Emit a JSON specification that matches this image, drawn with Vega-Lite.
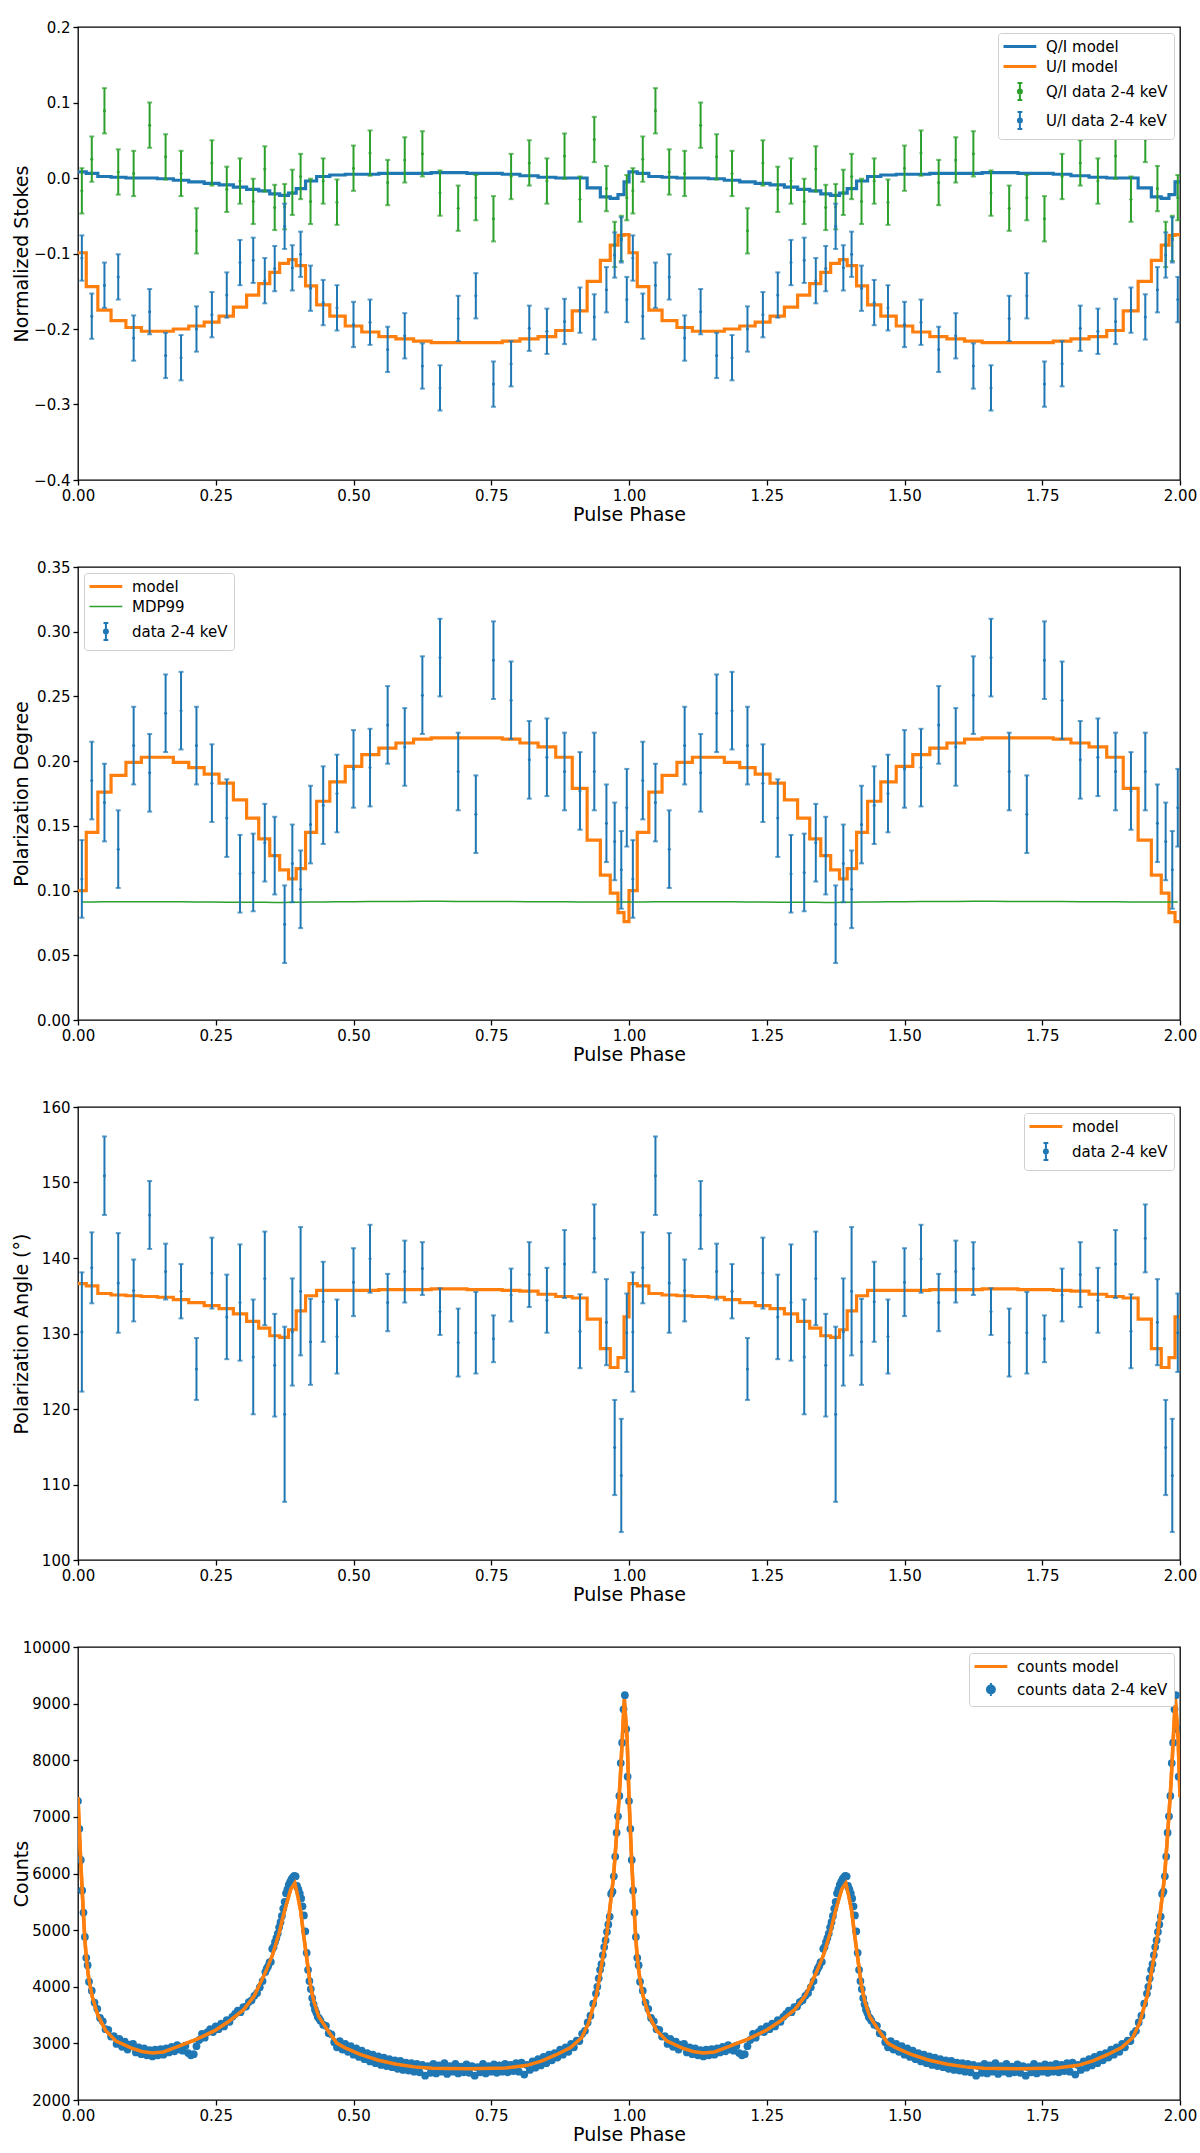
{
  "$schema": "https://vega.github.io/schema/vega-lite/v6.json",
  "background": "white",
  "padding": {"left": 11, "top": 19, "right": 3, "bottom": 10},
  "spacing": 34,
  "resolve": {"scale": {"color": "independent"}, "legend": {"color": "independent"}},
  "config": {
    "font": "DejaVu Sans",
    "locale": {"number": {"decimal": ".", "thousands": ",", "grouping": [3], "currency": ["$", ""], "minus": "\u2212"}},
    "view": {"stroke": "black", "strokeWidth": 1.3},
    "axis": {
      "grid": false, "domain": false, "tickColor": "black", "tickWidth": 1.3, "tickSize": 5,
      "labelColor": "black", "labelFontSize": 15, "labelPadding": 3, "labelFlush": false, "labelOverlap": false,
      "titleColor": "black", "titleFontSize": 19, "titleFontWeight": "normal"
    },
    "axisX": {"titlePadding": 2},
    "axisY": {"titleX": -51, "titleBaseline": "alphabetic"},
    "legend": {
      "labelFontSize": 15, "labelColor": "black", "symbolSize": 256, "labelOffset": 27,
      "rowPadding": 4, "padding": 6, "offset": 6, "fillColor": "white",
      "strokeColor": "#d0d0d0", "cornerRadius": 3
    }
  },
  "datasets": {
    "bins": [
      {"p":0.007,"q":-0.017,"u":-0.106,"d":0.109,"a":130.2,"ae":7.9,"m":0.0912,"e":0.03},
      {"p":0.025,"q":0.025,"u":-0.183,"d":0.185,"a":138.7,"ae":4.7,"m":0.0912,"e":0.03},
      {"p":0.048,"q":0.089,"u":-0.142,"d":0.168,"a":150.9,"ae":5.2,"m":0.0913,"e":0.03},
      {"p":0.073,"q":0.008,"u":-0.131,"d":0.132,"a":136.7,"ae":6.6,"m":0.0913,"e":0.03},
      {"p":0.101,"q":0.006,"u":-0.212,"d":0.212,"a":135.7,"ae":4.1,"m":0.0914,"e":0.03},
      {"p":0.130,"q":0.070,"u":-0.177,"d":0.191,"a":145.7,"ae":4.5,"m":0.0914,"e":0.03},
      {"p":0.159,"q":0.028,"u":-0.235,"d":0.237,"a":138.2,"ae":3.7,"m":0.0914,"e":0.03},
      {"p":0.187,"q":0.006,"u":-0.238,"d":0.239,"a":135.6,"ae":3.6,"m":0.0913,"e":0.03},
      {"p":0.215,"q":-0.070,"u":-0.200,"d":0.212,"a":125.3,"ae":4.1,"m":0.0912,"e":0.03},
      {"p":0.243,"q":0.020,"u":-0.181,"d":0.183,"a":138.0,"ae":4.7,"m":0.0911,"e":0.03},
      {"p":0.270,"q":-0.015,"u":-0.155,"d":0.156,"a":132.2,"ae":5.6,"m":0.0910,"e":0.03},
      {"p":0.294,"q":-0.004,"u":-0.112,"d":0.113,"a":134.1,"ae":7.7,"m":0.0910,"e":0.03},
      {"p":0.318,"q":-0.031,"u":-0.109,"d":0.114,"a":126.9,"ae":7.6,"m":0.0909,"e":0.03},
      {"p":0.339,"q":0.012,"u":-0.136,"d":0.137,"a":137.3,"ae":6.2,"m":0.0909,"e":0.03},
      {"p":0.357,"q":-0.039,"u":-0.120,"d":0.127,"a":125.8,"ae":6.8,"m":0.0908,"e":0.03},
      {"p":0.375,"q":-0.038,"u":-0.064,"d":0.074,"a":119.3,"ae":11.6,"m":0.0908,"e":0.03},
      {"p":0.389,"q":-0.019,"u":-0.119,"d":0.121,"a":130.2,"ae":7.1,"m":0.0909,"e":0.03},
      {"p":0.404,"q":0.002,"u":-0.101,"d":0.101,"a":135.6,"ae":8.5,"m":0.0910,"e":0.03},
      {"p":0.422,"q":-0.031,"u":-0.146,"d":0.151,"a":128.9,"ae":5.7,"m":0.0911,"e":0.03},
      {"p":0.445,"q":-0.004,"u":-0.165,"d":0.166,"a":134.2,"ae":5.3,"m":0.0912,"e":0.03},
      {"p":0.470,"q":-0.032,"u":-0.172,"d":0.175,"a":129.6,"ae":4.9,"m":0.0913,"e":0.03},
      {"p":0.500,"q":0.013,"u":-0.194,"d":0.194,"a":136.8,"ae":4.5,"m":0.0914,"e":0.03},
      {"p":0.530,"q":0.033,"u":-0.191,"d":0.195,"a":139.9,"ae":4.5,"m":0.0915,"e":0.03},
      {"p":0.562,"q":-0.006,"u":-0.227,"d":0.228,"a":134.1,"ae":3.8,"m":0.0916,"e":0.03},
      {"p":0.593,"q":0.024,"u":-0.209,"d":0.211,"a":138.2,"ae":4.1,"m":0.0916,"e":0.03},
      {"p":0.625,"q":0.032,"u":-0.249,"d":0.251,"a":138.6,"ae":3.5,"m":0.0917,"e":0.03},
      {"p":0.657,"q":-0.020,"u":-0.278,"d":0.280,"a":132.9,"ae":3.1,"m":0.0917,"e":0.03},
      {"p":0.690,"q":-0.040,"u":-0.186,"d":0.192,"a":128.8,"ae":4.5,"m":0.0916,"e":0.03},
      {"p":0.722,"q":-0.026,"u":-0.156,"d":0.159,"a":130.1,"ae":5.4,"m":0.0916,"e":0.03},
      {"p":0.754,"q":-0.054,"u":-0.273,"d":0.278,"a":129.3,"ae":3.1,"m":0.0915,"e":0.03},
      {"p":0.786,"q":0.002,"u":-0.246,"d":0.247,"a":135.1,"ae":3.5,"m":0.0915,"e":0.03},
      {"p":0.819,"q":0.020,"u":-0.199,"d":0.201,"a":137.8,"ae":4.3,"m":0.0914,"e":0.03},
      {"p":0.851,"q":-0.004,"u":-0.203,"d":0.203,"a":134.4,"ae":4.3,"m":0.0913,"e":0.03},
      {"p":0.883,"q":0.029,"u":-0.190,"d":0.192,"a":139.2,"ae":4.5,"m":0.0913,"e":0.03},
      {"p":0.911,"q":-0.028,"u":-0.175,"d":0.177,"a":130.3,"ae":4.9,"m":0.0912,"e":0.03},
      {"p":0.937,"q":0.051,"u":-0.184,"d":0.192,"a":142.6,"ae":4.5,"m":0.0912,"e":0.03},
      {"p":0.959,"q":-0.014,"u":-0.148,"d":0.152,"a":131.5,"ae":5.7,"m":0.0912,"e":0.03},
      {"p":0.974,"q":-0.088,"u":-0.102,"d":0.138,"a":114.9,"ae":6.3,"m":0.0911,"e":0.03},
      {"p":0.986,"q":-0.080,"u":-0.082,"d":0.116,"a":111.2,"ae":7.5,"m":0.0911,"e":0.03},
      {"p":0.996,"q":-0.026,"u":-0.161,"d":0.164,"a":130.1,"ae":5.2,"m":0.0911,"e":0.03},
      {"p":1.007,"q":-0.017,"u":-0.106,"d":0.109,"a":130.2,"ae":7.9,"m":0.0912,"e":0.03},
      {"p":1.025,"q":0.025,"u":-0.183,"d":0.185,"a":138.7,"ae":4.7,"m":0.0912,"e":0.03},
      {"p":1.048,"q":0.089,"u":-0.142,"d":0.168,"a":150.9,"ae":5.2,"m":0.0913,"e":0.03},
      {"p":1.073,"q":0.008,"u":-0.131,"d":0.132,"a":136.7,"ae":6.6,"m":0.0913,"e":0.03},
      {"p":1.101,"q":0.006,"u":-0.212,"d":0.212,"a":135.7,"ae":4.1,"m":0.0914,"e":0.03},
      {"p":1.130,"q":0.070,"u":-0.177,"d":0.191,"a":145.7,"ae":4.5,"m":0.0914,"e":0.03},
      {"p":1.159,"q":0.028,"u":-0.235,"d":0.237,"a":138.2,"ae":3.7,"m":0.0914,"e":0.03},
      {"p":1.187,"q":0.006,"u":-0.238,"d":0.239,"a":135.6,"ae":3.6,"m":0.0913,"e":0.03},
      {"p":1.215,"q":-0.070,"u":-0.200,"d":0.212,"a":125.3,"ae":4.1,"m":0.0912,"e":0.03},
      {"p":1.243,"q":0.020,"u":-0.181,"d":0.183,"a":138.0,"ae":4.7,"m":0.0911,"e":0.03},
      {"p":1.270,"q":-0.015,"u":-0.155,"d":0.156,"a":132.2,"ae":5.6,"m":0.0910,"e":0.03},
      {"p":1.294,"q":-0.004,"u":-0.112,"d":0.113,"a":134.1,"ae":7.7,"m":0.0910,"e":0.03},
      {"p":1.318,"q":-0.031,"u":-0.109,"d":0.114,"a":126.9,"ae":7.6,"m":0.0909,"e":0.03},
      {"p":1.339,"q":0.012,"u":-0.136,"d":0.137,"a":137.3,"ae":6.2,"m":0.0909,"e":0.03},
      {"p":1.357,"q":-0.039,"u":-0.120,"d":0.127,"a":125.8,"ae":6.8,"m":0.0908,"e":0.03},
      {"p":1.375,"q":-0.038,"u":-0.064,"d":0.074,"a":119.3,"ae":11.6,"m":0.0908,"e":0.03},
      {"p":1.389,"q":-0.019,"u":-0.119,"d":0.121,"a":130.2,"ae":7.1,"m":0.0909,"e":0.03},
      {"p":1.404,"q":0.002,"u":-0.101,"d":0.101,"a":135.6,"ae":8.5,"m":0.0910,"e":0.03},
      {"p":1.422,"q":-0.031,"u":-0.146,"d":0.151,"a":128.9,"ae":5.7,"m":0.0911,"e":0.03},
      {"p":1.445,"q":-0.004,"u":-0.165,"d":0.166,"a":134.2,"ae":5.3,"m":0.0912,"e":0.03},
      {"p":1.470,"q":-0.032,"u":-0.172,"d":0.175,"a":129.6,"ae":4.9,"m":0.0913,"e":0.03},
      {"p":1.500,"q":0.013,"u":-0.194,"d":0.194,"a":136.8,"ae":4.5,"m":0.0914,"e":0.03},
      {"p":1.530,"q":0.033,"u":-0.191,"d":0.195,"a":139.9,"ae":4.5,"m":0.0915,"e":0.03},
      {"p":1.562,"q":-0.006,"u":-0.227,"d":0.228,"a":134.1,"ae":3.8,"m":0.0916,"e":0.03},
      {"p":1.593,"q":0.024,"u":-0.209,"d":0.211,"a":138.2,"ae":4.1,"m":0.0916,"e":0.03},
      {"p":1.625,"q":0.032,"u":-0.249,"d":0.251,"a":138.6,"ae":3.5,"m":0.0917,"e":0.03},
      {"p":1.657,"q":-0.020,"u":-0.278,"d":0.280,"a":132.9,"ae":3.1,"m":0.0917,"e":0.03},
      {"p":1.690,"q":-0.040,"u":-0.186,"d":0.192,"a":128.8,"ae":4.5,"m":0.0916,"e":0.03},
      {"p":1.722,"q":-0.026,"u":-0.156,"d":0.159,"a":130.1,"ae":5.4,"m":0.0916,"e":0.03},
      {"p":1.754,"q":-0.054,"u":-0.273,"d":0.278,"a":129.3,"ae":3.1,"m":0.0915,"e":0.03},
      {"p":1.786,"q":0.002,"u":-0.246,"d":0.247,"a":135.1,"ae":3.5,"m":0.0915,"e":0.03},
      {"p":1.819,"q":0.020,"u":-0.199,"d":0.201,"a":137.8,"ae":4.3,"m":0.0914,"e":0.03},
      {"p":1.851,"q":-0.004,"u":-0.203,"d":0.203,"a":134.4,"ae":4.3,"m":0.0913,"e":0.03},
      {"p":1.883,"q":0.029,"u":-0.190,"d":0.192,"a":139.2,"ae":4.5,"m":0.0913,"e":0.03},
      {"p":1.911,"q":-0.028,"u":-0.175,"d":0.177,"a":130.3,"ae":4.9,"m":0.0912,"e":0.03},
      {"p":1.937,"q":0.051,"u":-0.184,"d":0.192,"a":142.6,"ae":4.5,"m":0.0912,"e":0.03},
      {"p":1.959,"q":-0.014,"u":-0.148,"d":0.152,"a":131.5,"ae":5.7,"m":0.0912,"e":0.03},
      {"p":1.974,"q":-0.088,"u":-0.102,"d":0.138,"a":114.9,"ae":6.3,"m":0.0911,"e":0.03},
      {"p":1.986,"q":-0.080,"u":-0.082,"d":0.116,"a":111.2,"ae":7.5,"m":0.0911,"e":0.03},
      {"p":1.996,"q":-0.026,"u":-0.161,"d":0.164,"a":130.1,"ae":5.2,"m":0.0911,"e":0.03}
    ],
    "edges": [
      {"p":0,"qm":0.008,"um":-0.099,"pm":0.1,"am":136.6},
      {"p":0.015,"qm":0.006,"um":-0.144,"pm":0.145,"am":136.3},
      {"p":0.036,"qm":0.002,"um":-0.175,"pm":0.176,"am":135.3},
      {"p":0.06,"qm":0.001,"um":-0.189,"pm":0.189,"am":135.1},
      {"p":0.087,"qm":0,"um":-0.198,"pm":0.199,"am":135.0},
      {"p":0.115,"qm":0,"um":-0.203,"pm":0.203,"am":134.9},
      {"p":0.144,"qm":-0.001,"um":-0.203,"pm":0.203,"am":134.8},
      {"p":0.173,"qm":-0.003,"um":-0.2,"pm":0.199,"am":134.5},
      {"p":0.201,"qm":-0.005,"um":-0.196,"pm":0.195,"am":134.1},
      {"p":0.229,"qm":-0.007,"um":-0.191,"pm":0.19,"am":133.7},
      {"p":0.256,"qm":-0.009,"um":-0.183,"pm":0.183,"am":133.3},
      {"p":0.282,"qm":-0.012,"um":-0.171,"pm":0.17,"am":132.6},
      {"p":0.306,"qm":-0.015,"um":-0.155,"pm":0.156,"am":131.6},
      {"p":0.328,"qm":-0.017,"um":-0.14,"pm":0.14,"am":130.7},
      {"p":0.348,"qm":-0.021,"um":-0.125,"pm":0.127,"am":129.7},
      {"p":0.366,"qm":-0.023,"um":-0.113,"pm":0.116,"am":129.5},
      {"p":0.382,"qm":-0.02,"um":-0.108,"pm":0.109,"am":130.5},
      {"p":0.396,"qm":-0.014,"um":-0.116,"pm":0.117,"am":133.0},
      {"p":0.413,"qm":-0.004,"um":-0.143,"pm":0.145,"am":135.0},
      {"p":0.433,"qm":0.002,"um":-0.168,"pm":0.169,"am":135.7},
      {"p":0.457,"qm":0.004,"um":-0.183,"pm":0.184,"am":135.7},
      {"p":0.485,"qm":0.005,"um":-0.196,"pm":0.196,"am":135.7},
      {"p":0.515,"qm":0.005,"um":-0.204,"pm":0.205,"am":135.7},
      {"p":0.546,"qm":0.006,"um":-0.21,"pm":0.21,"am":135.8},
      {"p":0.577,"qm":0.006,"um":-0.213,"pm":0.214,"am":135.8},
      {"p":0.609,"qm":0.006,"um":-0.216,"pm":0.217,"am":135.8},
      {"p":0.641,"qm":0.007,"um":-0.218,"pm":0.218,"am":135.9},
      {"p":0.673,"qm":0.007,"um":-0.218,"pm":0.218,"am":135.9},
      {"p":0.706,"qm":0.006,"um":-0.218,"pm":0.218,"am":135.8},
      {"p":0.738,"qm":0.006,"um":-0.218,"pm":0.218,"am":135.8},
      {"p":0.77,"qm":0.005,"um":-0.216,"pm":0.217,"am":135.7},
      {"p":0.802,"qm":0.003,"um":-0.213,"pm":0.214,"am":135.6},
      {"p":0.835,"qm":0.001,"um":-0.21,"pm":0.211,"am":135.2},
      {"p":0.867,"qm":0,"um":-0.202,"pm":0.203,"am":134.9},
      {"p":0.897,"qm":0,"um":-0.176,"pm":0.179,"am":134.7},
      {"p":0.924,"qm":-0.013,"um":-0.137,"pm":0.139,"am":131.9},
      {"p":0.948,"qm":-0.025,"um":-0.109,"pm":0.112,"am":128.0},
      {"p":0.966,"qm":-0.027,"um":-0.089,"pm":0.098,"am":125.5},
      {"p":0.98,"qm":-0.022,"um":-0.076,"pm":0.083,"am":126.8},
      {"p":0.991,"qm":-0.005,"um":-0.075,"pm":0.076,"am":132.2},
      {"p":1,"qm":0.008,"um":-0.099,"pm":0.1,"am":136.6},
      {"p":1.015,"qm":0.006,"um":-0.144,"pm":0.145,"am":136.3},
      {"p":1.036,"qm":0.002,"um":-0.175,"pm":0.176,"am":135.3},
      {"p":1.06,"qm":0.001,"um":-0.189,"pm":0.189,"am":135.1},
      {"p":1.087,"qm":0,"um":-0.198,"pm":0.199,"am":135.0},
      {"p":1.115,"qm":0,"um":-0.203,"pm":0.203,"am":134.9},
      {"p":1.144,"qm":-0.001,"um":-0.203,"pm":0.203,"am":134.8},
      {"p":1.173,"qm":-0.003,"um":-0.2,"pm":0.199,"am":134.5},
      {"p":1.201,"qm":-0.005,"um":-0.196,"pm":0.195,"am":134.1},
      {"p":1.229,"qm":-0.007,"um":-0.191,"pm":0.19,"am":133.7},
      {"p":1.256,"qm":-0.009,"um":-0.183,"pm":0.183,"am":133.3},
      {"p":1.282,"qm":-0.012,"um":-0.171,"pm":0.17,"am":132.6},
      {"p":1.306,"qm":-0.015,"um":-0.155,"pm":0.156,"am":131.6},
      {"p":1.328,"qm":-0.017,"um":-0.14,"pm":0.14,"am":130.7},
      {"p":1.348,"qm":-0.021,"um":-0.125,"pm":0.127,"am":129.7},
      {"p":1.366,"qm":-0.023,"um":-0.113,"pm":0.116,"am":129.5},
      {"p":1.382,"qm":-0.02,"um":-0.108,"pm":0.109,"am":130.5},
      {"p":1.396,"qm":-0.014,"um":-0.116,"pm":0.117,"am":133.0},
      {"p":1.413,"qm":-0.004,"um":-0.143,"pm":0.145,"am":135.0},
      {"p":1.433,"qm":0.002,"um":-0.168,"pm":0.169,"am":135.7},
      {"p":1.457,"qm":0.004,"um":-0.183,"pm":0.184,"am":135.7},
      {"p":1.485,"qm":0.005,"um":-0.196,"pm":0.196,"am":135.7},
      {"p":1.515,"qm":0.005,"um":-0.204,"pm":0.205,"am":135.7},
      {"p":1.546,"qm":0.006,"um":-0.21,"pm":0.21,"am":135.8},
      {"p":1.577,"qm":0.006,"um":-0.213,"pm":0.214,"am":135.8},
      {"p":1.609,"qm":0.006,"um":-0.216,"pm":0.217,"am":135.8},
      {"p":1.641,"qm":0.007,"um":-0.218,"pm":0.218,"am":135.9},
      {"p":1.673,"qm":0.007,"um":-0.218,"pm":0.218,"am":135.9},
      {"p":1.706,"qm":0.006,"um":-0.218,"pm":0.218,"am":135.8},
      {"p":1.738,"qm":0.006,"um":-0.218,"pm":0.218,"am":135.8},
      {"p":1.77,"qm":0.005,"um":-0.216,"pm":0.217,"am":135.7},
      {"p":1.802,"qm":0.003,"um":-0.213,"pm":0.214,"am":135.6},
      {"p":1.835,"qm":0.001,"um":-0.21,"pm":0.211,"am":135.2},
      {"p":1.867,"qm":0,"um":-0.202,"pm":0.203,"am":134.9},
      {"p":1.897,"qm":0,"um":-0.176,"pm":0.179,"am":134.7},
      {"p":1.924,"qm":-0.013,"um":-0.137,"pm":0.139,"am":131.9},
      {"p":1.948,"qm":-0.025,"um":-0.109,"pm":0.112,"am":128.0},
      {"p":1.966,"qm":-0.027,"um":-0.089,"pm":0.098,"am":125.5},
      {"p":1.98,"qm":-0.022,"um":-0.076,"pm":0.083,"am":126.8},
      {"p":1.991,"qm":-0.005,"um":-0.075,"pm":0.076,"am":132.2},
      {"p":2,"qm":-0.005,"um":-0.075,"pm":0.076,"am":132.2}
    ],
    "counts": [
      {"p":0,"c":7280},{"p":0.0025,"c":6790},{"p":0.005,"c":6240},{"p":0.0075,"c":5700},{"p":0.01,"c":5310},{"p":0.0125,"c":4880},{"p":0.015,"c":4510},{"p":0.0175,"c":4380},
      {"p":0.02,"c":4090},{"p":0.025,"c":3930},{"p":0.03,"c":3720},{"p":0.035,"c":3610},{"p":0.04,"c":3450},{"p":0.045,"c":3390},{"p":0.05,"c":3250},{"p":0.055,"c":3240},
      {"p":0.06,"c":3120},{"p":0.065,"c":3130},{"p":0.07,"c":2990},{"p":0.075,"c":3080},{"p":0.08,"c":2940},{"p":0.085,"c":3030},{"p":0.09,"c":2890},{"p":0.095,"c":2980},
      {"p":0.1,"c":2990},{"p":0.105,"c":2840},{"p":0.11,"c":2930},{"p":0.115,"c":2810},{"p":0.12,"c":2910},{"p":0.125,"c":2790},{"p":0.13,"c":2880},{"p":0.135,"c":2770},
      {"p":0.14,"c":2890},{"p":0.145,"c":2790},{"p":0.15,"c":2900},{"p":0.155,"c":2800},{"p":0.16,"c":2910},{"p":0.165,"c":2840},{"p":0.17,"c":2940},{"p":0.175,"c":2860},
      {"p":0.18,"c":2970},{"p":0.185,"c":2890},{"p":0.19,"c":2870},{"p":0.195,"c":2960},{"p":0.2,"c":2830},{"p":0.205,"c":2790},{"p":0.21,"c":2810},{"p":0.215,"c":2950},
      {"p":0.22,"c":3060},{"p":0.225,"c":3170},{"p":0.23,"c":3100},{"p":0.235,"c":3200},{"p":0.24,"c":3250},{"p":0.245,"c":3200},{"p":0.25,"c":3300},{"p":0.255,"c":3250},
      {"p":0.26,"c":3350},{"p":0.265,"c":3300},{"p":0.27,"c":3410},{"p":0.275,"c":3380},{"p":0.28,"c":3470},{"p":0.285,"c":3520},{"p":0.29,"c":3580},{"p":0.295,"c":3550},
      {"p":0.3,"c":3640},{"p":0.305,"c":3650},{"p":0.31,"c":3730},{"p":0.315,"c":3760},{"p":0.32,"c":3840},{"p":0.325,"c":3890},{"p":0.33,"c":3990},{"p":0.335,"c":4100},
      {"p":0.34,"c":4260},{"p":0.3425,"c":4320},{"p":0.345,"c":4360},{"p":0.3475,"c":4430},{"p":0.35,"c":4440},{"p":0.3525,"c":4670},{"p":0.355,"c":4700},{"p":0.3575,"c":4790},
      {"p":0.36,"c":4860},{"p":0.3625,"c":4940},{"p":0.365,"c":5050},{"p":0.3675,"c":5140},{"p":0.37,"c":5250},{"p":0.3725,"c":5380},{"p":0.375,"c":5500},{"p":0.3775,"c":5650},
      {"p":0.38,"c":5720},{"p":0.3825,"c":5800},{"p":0.385,"c":5850},{"p":0.3875,"c":5900},{"p":0.39,"c":5930},{"p":0.3925,"c":5960},{"p":0.395,"c":5950},{"p":0.3975,"c":5780},
      {"p":0.4,"c":5720},{"p":0.4025,"c":5650},{"p":0.405,"c":5560},{"p":0.4075,"c":5420},{"p":0.41,"c":5260},{"p":0.4125,"c":4980},{"p":0.415,"c":4600},{"p":0.4175,"c":4300},
      {"p":0.42,"c":4100},{"p":0.4225,"c":3960},{"p":0.425,"c":3800},{"p":0.4275,"c":3690},{"p":0.43,"c":3600},{"p":0.4325,"c":3540},{"p":0.435,"c":3470},{"p":0.4375,"c":3440},
      {"p":0.44,"c":3400},{"p":0.445,"c":3330},{"p":0.45,"c":3310},{"p":0.455,"c":3180},{"p":0.46,"c":3160},{"p":0.465,"c":3020},{"p":0.47,"c":2930},{"p":0.475,"c":3040},
      {"p":0.48,"c":2890},{"p":0.485,"c":2990},{"p":0.49,"c":2850},{"p":0.495,"c":2950},{"p":0.5,"c":2800},{"p":0.505,"c":2910},{"p":0.51,"c":2760},{"p":0.515,"c":2870},
      {"p":0.52,"c":2720},{"p":0.525,"c":2830},{"p":0.53,"c":2680},{"p":0.535,"c":2800},{"p":0.54,"c":2650},{"p":0.545,"c":2770},{"p":0.55,"c":2620},{"p":0.555,"c":2750},
      {"p":0.56,"c":2600},{"p":0.565,"c":2720},{"p":0.57,"c":2580},{"p":0.575,"c":2700},{"p":0.58,"c":2550},{"p":0.585,"c":2690},{"p":0.59,"c":2530},{"p":0.595,"c":2660},
      {"p":0.6,"c":2520},{"p":0.605,"c":2650},{"p":0.61,"c":2500},{"p":0.615,"c":2640},{"p":0.62,"c":2490},{"p":0.625,"c":2620},{"p":0.63,"c":2430},{"p":0.635,"c":2600},
      {"p":0.64,"c":2480},{"p":0.645,"c":2640},{"p":0.65,"c":2470},{"p":0.655,"c":2610},{"p":0.66,"c":2500},{"p":0.665,"c":2650},{"p":0.67,"c":2460},{"p":0.675,"c":2600},
      {"p":0.68,"c":2500},{"p":0.685,"c":2640},{"p":0.69,"c":2470},{"p":0.695,"c":2590},{"p":0.7,"c":2490},{"p":0.705,"c":2630},{"p":0.71,"c":2480},{"p":0.715,"c":2600},
      {"p":0.72,"c":2430},{"p":0.725,"c":2580},{"p":0.73,"c":2490},{"p":0.735,"c":2640},{"p":0.74,"c":2470},{"p":0.745,"c":2600},{"p":0.75,"c":2500},{"p":0.755,"c":2630},
      {"p":0.76,"c":2480},{"p":0.765,"c":2610},{"p":0.77,"c":2500},{"p":0.775,"c":2640},{"p":0.78,"c":2490},{"p":0.785,"c":2620},{"p":0.79,"c":2510},{"p":0.795,"c":2650},
      {"p":0.8,"c":2500},{"p":0.805,"c":2660},{"p":0.81,"c":2450},{"p":0.815,"c":2620},{"p":0.82,"c":2530},{"p":0.825,"c":2680},{"p":0.83,"c":2570},{"p":0.835,"c":2720},
      {"p":0.84,"c":2610},{"p":0.845,"c":2760},{"p":0.85,"c":2650},{"p":0.855,"c":2800},{"p":0.86,"c":2700},{"p":0.865,"c":2830},{"p":0.87,"c":2750},{"p":0.875,"c":2890},
      {"p":0.88,"c":2800},{"p":0.885,"c":2930},{"p":0.89,"c":2850},{"p":0.895,"c":2990},{"p":0.9,"c":2930},{"p":0.905,"c":3050},{"p":0.91,"c":3040},{"p":0.915,"c":3170},
      {"p":0.92,"c":3220},{"p":0.925,"c":3370},{"p":0.93,"c":3490},{"p":0.935,"c":3700},
      {"p":0.94,"c":3880},{"p":0.9425,"c":4000},{"p":0.945,"c":4150},{"p":0.9475,"c":4300},{"p":0.95,"c":4400},{"p":0.9525,"c":4560},{"p":0.955,"c":4700},{"p":0.9575,"c":4820},
      {"p":0.96,"c":4970},{"p":0.9625,"c":5100},{"p":0.965,"c":5240},{"p":0.9675,"c":5640},{"p":0.97,"c":5680},{"p":0.9725,"c":5950},{"p":0.975,"c":6300},{"p":0.9775,"c":6720},
      {"p":0.98,"c":7010},{"p":0.9825,"c":7370},{"p":0.985,"c":7950},{"p":0.9875,"c":8310},{"p":0.99,"c":8900},{"p":0.9925,"c":9150},{"p":0.995,"c":8550},{"p":0.9975,"c":7710},
      {"p":1,"c":7280},{"p":1.0025,"c":6790},{"p":1.005,"c":6240},{"p":1.0075,"c":5700},{"p":1.01,"c":5310},{"p":1.0125,"c":4880},{"p":1.015,"c":4510},{"p":1.0175,"c":4380},
      {"p":1.02,"c":4090},{"p":1.025,"c":3930},{"p":1.03,"c":3720},{"p":1.035,"c":3610},{"p":1.04,"c":3450},{"p":1.045,"c":3390},{"p":1.05,"c":3250},{"p":1.055,"c":3240},
      {"p":1.06,"c":3120},{"p":1.065,"c":3130},{"p":1.07,"c":2990},{"p":1.075,"c":3080},{"p":1.08,"c":2940},{"p":1.085,"c":3030},{"p":1.09,"c":2890},{"p":1.095,"c":2980},
      {"p":1.1,"c":2990},{"p":1.105,"c":2840},{"p":1.11,"c":2930},{"p":1.115,"c":2810},{"p":1.12,"c":2910},{"p":1.125,"c":2790},{"p":1.13,"c":2880},{"p":1.135,"c":2770},
      {"p":1.14,"c":2890},{"p":1.145,"c":2790},{"p":1.15,"c":2900},{"p":1.155,"c":2800},{"p":1.16,"c":2910},{"p":1.165,"c":2840},{"p":1.17,"c":2940},{"p":1.175,"c":2860},
      {"p":1.18,"c":2970},{"p":1.185,"c":2890},{"p":1.19,"c":2870},{"p":1.195,"c":2960},{"p":1.2,"c":2830},{"p":1.205,"c":2790},{"p":1.21,"c":2810},{"p":1.215,"c":2950},
      {"p":1.22,"c":3060},{"p":1.225,"c":3170},{"p":1.23,"c":3100},{"p":1.235,"c":3200},{"p":1.24,"c":3250},{"p":1.245,"c":3200},{"p":1.25,"c":3300},{"p":1.255,"c":3250},
      {"p":1.26,"c":3350},{"p":1.265,"c":3300},{"p":1.27,"c":3410},{"p":1.275,"c":3380},{"p":1.28,"c":3470},{"p":1.285,"c":3520},{"p":1.29,"c":3580},{"p":1.295,"c":3550},
      {"p":1.3,"c":3640},{"p":1.305,"c":3650},{"p":1.31,"c":3730},{"p":1.315,"c":3760},{"p":1.32,"c":3840},{"p":1.325,"c":3890},{"p":1.33,"c":3990},{"p":1.335,"c":4100},
      {"p":1.34,"c":4260},{"p":1.3425,"c":4320},{"p":1.345,"c":4360},{"p":1.3475,"c":4430},{"p":1.35,"c":4440},{"p":1.3525,"c":4670},{"p":1.355,"c":4700},{"p":1.3575,"c":4790},
      {"p":1.36,"c":4860},{"p":1.3625,"c":4940},{"p":1.365,"c":5050},{"p":1.3675,"c":5140},{"p":1.37,"c":5250},{"p":1.3725,"c":5380},{"p":1.375,"c":5500},{"p":1.3775,"c":5650},
      {"p":1.38,"c":5720},{"p":1.3825,"c":5800},{"p":1.385,"c":5850},{"p":1.3875,"c":5900},{"p":1.39,"c":5930},{"p":1.3925,"c":5960},{"p":1.395,"c":5950},{"p":1.3975,"c":5780},
      {"p":1.4,"c":5720},{"p":1.4025,"c":5650},{"p":1.405,"c":5560},{"p":1.4075,"c":5420},{"p":1.41,"c":5260},{"p":1.4125,"c":4980},{"p":1.415,"c":4600},{"p":1.4175,"c":4300},
      {"p":1.42,"c":4100},{"p":1.4225,"c":3960},{"p":1.425,"c":3800},{"p":1.4275,"c":3690},{"p":1.43,"c":3600},{"p":1.4325,"c":3540},{"p":1.435,"c":3470},{"p":1.4375,"c":3440},
      {"p":1.44,"c":3400},{"p":1.445,"c":3330},{"p":1.45,"c":3310},{"p":1.455,"c":3180},{"p":1.46,"c":3160},{"p":1.465,"c":3020},{"p":1.47,"c":2930},{"p":1.475,"c":3040},
      {"p":1.48,"c":2890},{"p":1.485,"c":2990},{"p":1.49,"c":2850},{"p":1.495,"c":2950},{"p":1.5,"c":2800},{"p":1.505,"c":2910},{"p":1.51,"c":2760},{"p":1.515,"c":2870},
      {"p":1.52,"c":2720},{"p":1.525,"c":2830},{"p":1.53,"c":2680},{"p":1.535,"c":2800},{"p":1.54,"c":2650},{"p":1.545,"c":2770},{"p":1.55,"c":2620},{"p":1.555,"c":2750},
      {"p":1.56,"c":2600},{"p":1.565,"c":2720},{"p":1.57,"c":2580},{"p":1.575,"c":2700},{"p":1.58,"c":2550},{"p":1.585,"c":2690},{"p":1.59,"c":2530},{"p":1.595,"c":2660},
      {"p":1.6,"c":2520},{"p":1.605,"c":2650},{"p":1.61,"c":2500},{"p":1.615,"c":2640},{"p":1.62,"c":2490},{"p":1.625,"c":2620},{"p":1.63,"c":2430},{"p":1.635,"c":2600},
      {"p":1.64,"c":2480},{"p":1.645,"c":2640},{"p":1.65,"c":2470},{"p":1.655,"c":2610},{"p":1.66,"c":2500},{"p":1.665,"c":2650},{"p":1.67,"c":2460},{"p":1.675,"c":2600},
      {"p":1.68,"c":2500},{"p":1.685,"c":2640},{"p":1.69,"c":2470},{"p":1.695,"c":2590},{"p":1.7,"c":2490},{"p":1.705,"c":2630},{"p":1.71,"c":2480},{"p":1.715,"c":2600},
      {"p":1.72,"c":2430},{"p":1.725,"c":2580},{"p":1.73,"c":2490},{"p":1.735,"c":2640},{"p":1.74,"c":2470},{"p":1.745,"c":2600},{"p":1.75,"c":2500},{"p":1.755,"c":2630},
      {"p":1.76,"c":2480},{"p":1.765,"c":2610},{"p":1.77,"c":2500},{"p":1.775,"c":2640},{"p":1.78,"c":2490},{"p":1.785,"c":2620},{"p":1.79,"c":2510},{"p":1.795,"c":2650},
      {"p":1.8,"c":2500},{"p":1.805,"c":2660},{"p":1.81,"c":2450},{"p":1.815,"c":2620},{"p":1.82,"c":2530},{"p":1.825,"c":2680},{"p":1.83,"c":2570},{"p":1.835,"c":2720},
      {"p":1.84,"c":2610},{"p":1.845,"c":2760},{"p":1.85,"c":2650},{"p":1.855,"c":2800},{"p":1.86,"c":2700},{"p":1.865,"c":2830},{"p":1.87,"c":2750},{"p":1.875,"c":2890},
      {"p":1.88,"c":2800},{"p":1.885,"c":2930},{"p":1.89,"c":2850},{"p":1.895,"c":2990},{"p":1.9,"c":2930},{"p":1.905,"c":3050},{"p":1.91,"c":3040},{"p":1.915,"c":3170},
      {"p":1.92,"c":3220},{"p":1.925,"c":3370},{"p":1.93,"c":3490},{"p":1.935,"c":3700},
      {"p":1.94,"c":3880},{"p":1.9425,"c":4000},{"p":1.945,"c":4150},{"p":1.9475,"c":4300},{"p":1.95,"c":4400},{"p":1.9525,"c":4560},{"p":1.955,"c":4700},{"p":1.9575,"c":4820},
      {"p":1.96,"c":4970},{"p":1.9625,"c":5100},{"p":1.965,"c":5240},{"p":1.9675,"c":5640},{"p":1.97,"c":5680},{"p":1.9725,"c":5950},{"p":1.975,"c":6300},{"p":1.9775,"c":6720},
      {"p":1.98,"c":7010},{"p":1.9825,"c":7370},{"p":1.985,"c":7950},{"p":1.9875,"c":8310},{"p":1.99,"c":8900},{"p":1.9925,"c":9150},{"p":1.995,"c":8550},{"p":1.9975,"c":7710}
    ],
    "cmodel": [
      {"p":0,"m":7350},{"p":0.0025,"m":6750},{"p":0.005,"m":6200},{"p":0.0075,"m":5720},{"p":0.01,"m":5250},{"p":0.0125,"m":4830},{"p":0.015,"m":4520},{"p":0.0175,"m":4300},
      {"p":0.02,"m":4120},{"p":0.026,"m":3820},{"p":0.036,"m":3500},{"p":0.05,"m":3230},{"p":0.069,"m":3040},{"p":0.096,"m":2920},{"p":0.116,"m":2858},{"p":0.135,"m":2830},
      {"p":0.155,"m":2848},{"p":0.182,"m":2945},{"p":0.215,"m":3072},{"p":0.248,"m":3225},{"p":0.274,"m":3390},{"p":0.3,"m":3590},{"p":0.32,"m":3840},{"p":0.34,"m":4250},
      {"p":0.353,"m":4560},{"p":0.365,"m":4950},{"p":0.375,"m":5350},{"p":0.386,"m":5720},{"p":0.3935,"m":5830},{"p":0.399,"m":5600},{"p":0.404,"m":5350},{"p":0.409,"m":4950},
      {"p":0.416,"m":4440},{"p":0.422,"m":4020},{"p":0.428,"m":3740},{"p":0.437,"m":3470},{"p":0.455,"m":3205},{"p":0.47,"m":3000},{"p":0.485,"m":2920},{"p":0.512,"m":2805},
      {"p":0.545,"m":2702},{"p":0.578,"m":2630},{"p":0.611,"m":2585},{"p":0.644,"m":2560},{"p":0.71,"m":2550},{"p":0.776,"m":2565},{"p":0.815,"m":2612},{"p":0.842,"m":2690},
      {"p":0.868,"m":2800},{"p":0.894,"m":2925},{"p":0.914,"m":3100},{"p":0.927,"m":3370},{"p":0.941,"m":3860},{"p":0.948,"m":4250},{"p":0.954,"m":4600},{"p":0.96,"m":4950},
      {"p":0.966,"m":5450},{"p":0.972,"m":5950},{"p":0.978,"m":6750},{"p":0.984,"m":7650},{"p":0.9915,"m":9080},{"p":0.9965,"m":8400},
      {"p":1,"m":7350},{"p":1.0025,"m":6750},{"p":1.005,"m":6200},{"p":1.0075,"m":5720},{"p":1.01,"m":5250},{"p":1.0125,"m":4830},{"p":1.015,"m":4520},{"p":1.0175,"m":4300},
      {"p":1.02,"m":4120},{"p":1.026,"m":3820},{"p":1.036,"m":3500},{"p":1.05,"m":3230},{"p":1.069,"m":3040},{"p":1.096,"m":2920},{"p":1.116,"m":2858},{"p":1.135,"m":2830},
      {"p":1.155,"m":2848},{"p":1.182,"m":2945},{"p":1.215,"m":3072},{"p":1.248,"m":3225},{"p":1.274,"m":3390},{"p":1.3,"m":3590},{"p":1.32,"m":3840},{"p":1.34,"m":4250},
      {"p":1.353,"m":4560},{"p":1.365,"m":4950},{"p":1.375,"m":5350},{"p":1.386,"m":5720},{"p":1.3935,"m":5830},{"p":1.399,"m":5600},{"p":1.404,"m":5350},{"p":1.409,"m":4950},
      {"p":1.416,"m":4440},{"p":1.422,"m":4020},{"p":1.428,"m":3740},{"p":1.437,"m":3470},{"p":1.455,"m":3205},{"p":1.47,"m":3000},{"p":1.485,"m":2920},{"p":1.512,"m":2805},
      {"p":1.545,"m":2702},{"p":1.578,"m":2630},{"p":1.611,"m":2585},{"p":1.644,"m":2560},{"p":1.71,"m":2550},{"p":1.776,"m":2565},{"p":1.815,"m":2612},{"p":1.842,"m":2690},
      {"p":1.868,"m":2800},{"p":1.894,"m":2925},{"p":1.914,"m":3100},{"p":1.927,"m":3370},{"p":1.941,"m":3860},{"p":1.948,"m":4250},{"p":1.954,"m":4600},{"p":1.96,"m":4950},
      {"p":1.966,"m":5450},{"p":1.972,"m":5950},{"p":1.978,"m":6750},{"p":1.984,"m":7650},{"p":1.9915,"m":9080},{"p":1.9965,"m":8400},{"p":2,"m":7350}
    ]
  },
  "vconcat": [
    {
      "width": 1102, "height": 453,
      "layer": [
        {
          "data": {"name": "edges"},
          "mark": {"type": "line", "interpolate": "step-after", "strokeWidth": 3.2, "clip": true},
          "encoding": {
            "x": {"field": "p", "type": "quantitative", "title": "Pulse Phase", "scale": {"domain": [0, 2], "nice": false, "zero": false},
                  "axis": {"values": [0, 0.25, 0.5, 0.75, 1, 1.25, 1.5, 1.75, 2], "format": ".2f"}},
            "y": {"field": "qm", "type": "quantitative", "title": "Normalized Stokes", "scale": {"domain": [-0.4, 0.2], "nice": false, "zero": false},
                  "axis": {"values": [-0.4, -0.3, -0.2, -0.1, 0, 0.1, 0.2], "format": ".1f"}},
            "color": {"datum": "Q/I model", "type": "nominal",
              "scale": {"domain": ["Q/I model", "U/I model", "Q/I data 2-4 keV", "U/I data 2-4 keV"], "range": ["#1f77b4", "#ff7f0e", "#2ca02c", "#1f77b4"]},
              "legend": {"title": null, "orient": "top-right",
                "encode": {"symbols": {"update": {
                  "shape": {"signal": "(datum.value=='Q/I model'||datum.value=='U/I model'||datum.value=='model'||datum.value=='counts model'||datum.value=='MDP99')?'M-1,0L3.1,0':(datum.value=='counts data 2-4 keV')?'M1.05,-0.8L1.05,0.8M0.55,0A0.5,0.5 0 1,1 1.55,0A0.5,0.5 0 1,1 0.55,0Z':'M1.05,-1.05L1.05,1.05M0.75,-1.05L1.35,-1.05M0.75,1.05L1.35,1.05M0.8,0A0.25,0.25 0 1,1 1.3,0A0.25,0.25 0 1,1 0.8,0Z'"},
                  "strokeWidth": {"signal": "datum.value=='MDP99'?1.5:(datum.value=='Q/I model'||datum.value=='U/I model'||datum.value=='model'||datum.value=='counts model')?3.2:2"},
                  "stroke": {"signal": "(datum.value=='U/I model'||datum.value=='model'||datum.value=='counts model')?'#ff7f0e':(datum.value=='MDP99'||datum.value=='Q/I data 2-4 keV')?'#2ca02c':'#1f77b4'"},
                  "fill": {"signal": "(datum.value=='U/I model'||datum.value=='model'||datum.value=='counts model')?'#ff7f0e':(datum.value=='MDP99'||datum.value=='Q/I data 2-4 keV')?'#2ca02c':'#1f77b4'"}
                }}}}}
          }
        },
        {
          "data": {"name": "edges"},
          "mark": {"type": "line", "interpolate": "step-after", "strokeWidth": 3.2, "clip": true},
          "encoding": {
            "x": {"field": "p", "type": "quantitative", "title": "Pulse Phase"},
            "y": {"field": "um", "type": "quantitative", "title": "Normalized Stokes"},
            "color": {"datum": "U/I model", "type": "nominal"}
          }
        },
        {
          "data": {"name": "bins"},
          "mark": {"type": "errorbar", "thickness": 2, "ticks": {"size": 5, "thickness": 2}},
          "encoding": {
            "x": {"field": "p", "type": "quantitative", "title": "Pulse Phase"},
            "y": {"field": "q", "type": "quantitative", "title": "Normalized Stokes"},
            "yError": {"field": "e"},
            "color": {"datum": "Q/I data 2-4 keV", "type": "nominal"}
          }
        },
        {
          "data": {"name": "bins"},
          "mark": {"type": "circle", "size": 9, "opacity": 1},
          "encoding": {
            "x": {"field": "p", "type": "quantitative", "title": "Pulse Phase"},
            "y": {"field": "q", "type": "quantitative", "title": "Normalized Stokes"},
            "color": {"datum": "Q/I data 2-4 keV", "type": "nominal"}
          }
        },
        {
          "data": {"name": "bins"},
          "mark": {"type": "errorbar", "thickness": 2, "ticks": {"size": 5, "thickness": 2}},
          "encoding": {
            "x": {"field": "p", "type": "quantitative", "title": "Pulse Phase"},
            "y": {"field": "u", "type": "quantitative", "title": "Normalized Stokes"},
            "yError": {"field": "e"},
            "color": {"datum": "U/I data 2-4 keV", "type": "nominal"}
          }
        },
        {
          "data": {"name": "bins"},
          "mark": {"type": "circle", "size": 9, "opacity": 1},
          "encoding": {
            "x": {"field": "p", "type": "quantitative", "title": "Pulse Phase"},
            "y": {"field": "u", "type": "quantitative", "title": "Normalized Stokes"},
            "color": {"datum": "U/I data 2-4 keV", "type": "nominal"}
          }
        }
      ]
    },
    {
      "width": 1102, "height": 453,
      "layer": [
        {
          "data": {"name": "edges"},
          "mark": {"type": "line", "interpolate": "step-after", "strokeWidth": 3.2, "clip": true},
          "encoding": {
            "x": {"field": "p", "type": "quantitative", "title": "Pulse Phase", "scale": {"domain": [0, 2], "nice": false, "zero": false},
                  "axis": {"values": [0, 0.25, 0.5, 0.75, 1, 1.25, 1.5, 1.75, 2], "format": ".2f"}},
            "y": {"field": "pm", "type": "quantitative", "title": "Polarization Degree", "scale": {"domain": [0, 0.35], "nice": false},
                  "axis": {"values": [0, 0.05, 0.1, 0.15, 0.2, 0.25, 0.3, 0.35], "format": ".2f"}},
            "color": {"datum": "model", "type": "nominal",
              "scale": {"domain": ["model", "MDP99", "data 2-4 keV"], "range": ["#ff7f0e", "#2ca02c", "#1f77b4"]},
              "legend": {"title": null, "orient": "top-left",
                "encode": {"symbols": {"update": {
                  "shape": {"signal": "(datum.value=='Q/I model'||datum.value=='U/I model'||datum.value=='model'||datum.value=='counts model'||datum.value=='MDP99')?'M-1,0L3.1,0':(datum.value=='counts data 2-4 keV')?'M1.05,-0.8L1.05,0.8M0.55,0A0.5,0.5 0 1,1 1.55,0A0.5,0.5 0 1,1 0.55,0Z':'M1.05,-1.05L1.05,1.05M0.75,-1.05L1.35,-1.05M0.75,1.05L1.35,1.05M0.8,0A0.25,0.25 0 1,1 1.3,0A0.25,0.25 0 1,1 0.8,0Z'"},
                  "strokeWidth": {"signal": "datum.value=='MDP99'?1.5:(datum.value=='Q/I model'||datum.value=='U/I model'||datum.value=='model'||datum.value=='counts model')?3.2:2"},
                  "stroke": {"signal": "(datum.value=='U/I model'||datum.value=='model'||datum.value=='counts model')?'#ff7f0e':(datum.value=='MDP99'||datum.value=='Q/I data 2-4 keV')?'#2ca02c':'#1f77b4'"},
                  "fill": {"signal": "(datum.value=='U/I model'||datum.value=='model'||datum.value=='counts model')?'#ff7f0e':(datum.value=='MDP99'||datum.value=='Q/I data 2-4 keV')?'#2ca02c':'#1f77b4'"}
                }}}}}
          }
        },
        {
          "data": {"name": "bins"},
          "mark": {"type": "line", "strokeWidth": 1.5, "clip": true},
          "encoding": {
            "x": {"field": "p", "type": "quantitative", "title": "Pulse Phase"},
            "y": {"field": "m", "type": "quantitative", "title": "Polarization Degree"},
            "color": {"datum": "MDP99", "type": "nominal"}
          }
        },
        {
          "data": {"name": "bins"},
          "mark": {"type": "errorbar", "thickness": 2, "ticks": {"size": 5, "thickness": 2}},
          "encoding": {
            "x": {"field": "p", "type": "quantitative", "title": "Pulse Phase"},
            "y": {"field": "d", "type": "quantitative", "title": "Polarization Degree"},
            "yError": {"field": "e"},
            "color": {"datum": "data 2-4 keV", "type": "nominal"}
          }
        },
        {
          "data": {"name": "bins"},
          "mark": {"type": "circle", "size": 9, "opacity": 1},
          "encoding": {
            "x": {"field": "p", "type": "quantitative", "title": "Pulse Phase"},
            "y": {"field": "d", "type": "quantitative", "title": "Polarization Degree"},
            "color": {"datum": "data 2-4 keV", "type": "nominal"}
          }
        }
      ]
    },
    {
      "width": 1102, "height": 453,
      "layer": [
        {
          "data": {"name": "edges"},
          "mark": {"type": "line", "interpolate": "step-after", "strokeWidth": 3.2, "clip": true},
          "encoding": {
            "x": {"field": "p", "type": "quantitative", "title": "Pulse Phase", "scale": {"domain": [0, 2], "nice": false, "zero": false},
                  "axis": {"values": [0, 0.25, 0.5, 0.75, 1, 1.25, 1.5, 1.75, 2], "format": ".2f"}},
            "y": {"field": "am", "type": "quantitative", "title": "Polarization Angle (\u00b0)", "scale": {"domain": [100, 160], "nice": false, "zero": false},
                  "axis": {"values": [100, 110, 120, 130, 140, 150, 160], "format": "d"}},
            "color": {"datum": "model", "type": "nominal",
              "scale": {"domain": ["model", "data 2-4 keV"], "range": ["#ff7f0e", "#1f77b4"]},
              "legend": {"title": null, "orient": "top-right",
                "encode": {"symbols": {"update": {
                  "shape": {"signal": "(datum.value=='Q/I model'||datum.value=='U/I model'||datum.value=='model'||datum.value=='counts model'||datum.value=='MDP99')?'M-1,0L3.1,0':(datum.value=='counts data 2-4 keV')?'M1.05,-0.8L1.05,0.8M0.55,0A0.5,0.5 0 1,1 1.55,0A0.5,0.5 0 1,1 0.55,0Z':'M1.05,-1.05L1.05,1.05M0.75,-1.05L1.35,-1.05M0.75,1.05L1.35,1.05M0.8,0A0.25,0.25 0 1,1 1.3,0A0.25,0.25 0 1,1 0.8,0Z'"},
                  "strokeWidth": {"signal": "datum.value=='MDP99'?1.5:(datum.value=='Q/I model'||datum.value=='U/I model'||datum.value=='model'||datum.value=='counts model')?3.2:2"},
                  "stroke": {"signal": "(datum.value=='U/I model'||datum.value=='model'||datum.value=='counts model')?'#ff7f0e':(datum.value=='MDP99'||datum.value=='Q/I data 2-4 keV')?'#2ca02c':'#1f77b4'"},
                  "fill": {"signal": "(datum.value=='U/I model'||datum.value=='model'||datum.value=='counts model')?'#ff7f0e':(datum.value=='MDP99'||datum.value=='Q/I data 2-4 keV')?'#2ca02c':'#1f77b4'"}
                }}}}}
          }
        },
        {
          "data": {"name": "bins"},
          "mark": {"type": "errorbar", "thickness": 2, "ticks": {"size": 5, "thickness": 2}},
          "encoding": {
            "x": {"field": "p", "type": "quantitative", "title": "Pulse Phase"},
            "y": {"field": "a", "type": "quantitative", "title": "Polarization Angle (\u00b0)"},
            "yError": {"field": "ae"},
            "color": {"datum": "data 2-4 keV", "type": "nominal"}
          }
        },
        {
          "data": {"name": "bins"},
          "mark": {"type": "circle", "size": 9, "opacity": 1},
          "encoding": {
            "x": {"field": "p", "type": "quantitative", "title": "Pulse Phase"},
            "y": {"field": "a", "type": "quantitative", "title": "Polarization Angle (\u00b0)"},
            "color": {"datum": "data 2-4 keV", "type": "nominal"}
          }
        }
      ]
    },
    {
      "width": 1102, "height": 453,
      "layer": [
        {
          "data": {"name": "cmodel"},
          "mark": {"type": "line", "strokeWidth": 3.5, "clip": true},
          "encoding": {
            "x": {"field": "p", "type": "quantitative", "title": "Pulse Phase", "scale": {"domain": [0, 2], "nice": false, "zero": false},
                  "axis": {"values": [0, 0.25, 0.5, 0.75, 1, 1.25, 1.5, 1.75, 2], "format": ".2f"}},
            "y": {"field": "m", "type": "quantitative", "title": "Counts", "scale": {"domain": [2000, 10000], "nice": false, "zero": false},
                  "axis": {"values": [2000, 3000, 4000, 5000, 6000, 7000, 8000, 9000, 10000], "format": "d"}},
            "color": {"datum": "counts model", "type": "nominal",
              "scale": {"domain": ["counts model", "counts data 2-4 keV"], "range": ["#ff7f0e", "#1f77b4"]},
              "legend": {"title": null, "orient": "top-right",
                "encode": {"symbols": {"update": {
                  "shape": {"signal": "(datum.value=='Q/I model'||datum.value=='U/I model'||datum.value=='model'||datum.value=='counts model'||datum.value=='MDP99')?'M-1,0L3.1,0':(datum.value=='counts data 2-4 keV')?'M1.05,-0.8L1.05,0.8M0.55,0A0.5,0.5 0 1,1 1.55,0A0.5,0.5 0 1,1 0.55,0Z':'M1.05,-1.05L1.05,1.05M0.75,-1.05L1.35,-1.05M0.75,1.05L1.35,1.05M0.8,0A0.25,0.25 0 1,1 1.3,0A0.25,0.25 0 1,1 0.8,0Z'"},
                  "strokeWidth": {"signal": "datum.value=='MDP99'?1.5:(datum.value=='Q/I model'||datum.value=='U/I model'||datum.value=='model'||datum.value=='counts model')?3.2:2"},
                  "stroke": {"signal": "(datum.value=='U/I model'||datum.value=='model'||datum.value=='counts model')?'#ff7f0e':(datum.value=='MDP99'||datum.value=='Q/I data 2-4 keV')?'#2ca02c':'#1f77b4'"},
                  "fill": {"signal": "(datum.value=='U/I model'||datum.value=='model'||datum.value=='counts model')?'#ff7f0e':(datum.value=='MDP99'||datum.value=='Q/I data 2-4 keV')?'#2ca02c':'#1f77b4'"}
                }}}}}
          }
        },
        {
          "data": {"name": "counts"},
          "mark": {"type": "circle", "size": 60, "opacity": 1, "clip": true},
          "encoding": {
            "x": {"field": "p", "type": "quantitative", "title": "Pulse Phase"},
            "y": {"field": "c", "type": "quantitative", "title": "Counts"},
            "color": {"datum": "counts data 2-4 keV", "type": "nominal"}
          }
        },
        {
          "data": {"name": "cmodel"},
          "mark": {"type": "line", "strokeWidth": 3.5, "clip": true},
          "encoding": {
            "x": {"field": "p", "type": "quantitative", "title": "Pulse Phase"},
            "y": {"field": "m", "type": "quantitative", "title": "Counts"},
            "color": {"datum": "counts model", "type": "nominal"}
          }
        }
      ]
    }
  ]
}
